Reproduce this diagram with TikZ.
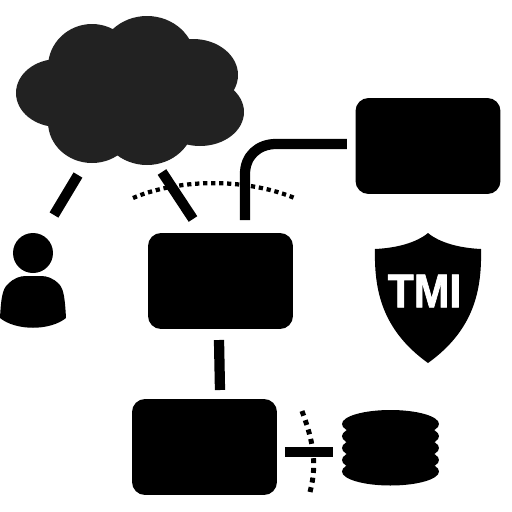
\documentclass[tikz,border=0pt]{standalone}
\usepackage{fontspec}
\setmainfont{Liberation Sans}[BoldFeatures={FakeBold=1.6}]
\usetikzlibrary{arrows.meta,positioning,calc}
\definecolor{cCloud}{RGB}{34,34,34}
\begin{document}
\begin{tikzpicture}[
			x=0.02cm,y=-0.02cm,
			hostbox/.style={
				rounded corners=0.26cm,
				minimum width=2.9cm,
				minimum height=1.92cm,
				inner sep=0pt,
				fill=black
			},
			wire/.style={line width=0.205cm,black},
			fence/.style={line width=0.085cm,black,dash pattern=on 0.085cm off 0.075cm},
			widefence/.style={line width=0.1cm,black,dash pattern=on 0.1cm off 0.095cm}
			]
			\useasboundingbox (0,0) rectangle (512,512);
			\fill[cCloud] (58,93) ellipse [x radius=42,y radius=34];
			\fill[cCloud] (92,67) ellipse [x radius=44,y radius=43];
			\fill[cCloud] (147,60) ellipse [x radius=48,y radius=44];
			\fill[cCloud] (193,75) ellipse [x radius=45,y radius=36];
			\fill[cCloud] (200,112) ellipse [x radius=44,y radius=34];
			\fill[cCloud] (147,122) ellipse [x radius=47,y radius=43];
			\fill[cCloud] (92,122) ellipse [x radius=44,y radius=41];
			\fill[cCloud] (60,60) rectangle (215,130);
			\coordinate (cloudLeft) at (78,175);
			\coordinate (cloudMid) at (162,172);
			\node[hostbox] (web) at (220.5,281) {};
			\node[hostbox] (store) at (204.5,447) {};
			\node[hostbox] (remote) at (428,146) {};
			\fill (33,253) circle [radius=20];
			\fill (0,318) .. controls (1,300) and (2,289) .. (8,284)
				.. controls (14,278) and (20,276) .. (26,276) -- (41,276)
				.. controls (47,276) and (53,278) .. (59,284)
				.. controls (64,289) and (65,300) .. (66,318)
				.. controls (50,331) and (16,331) .. (0,318) -- cycle;
			\coordinate (userTop) at (54,215);
			\draw[wire] (cloudLeft) -- (userTop);
			\coordinate (webTopLeft) at (193,219);
			\draw[wire] (cloudMid) -- (webTopLeft);
			\coordinate (webTopRight) at (245,220);
			\coordinate (remoteLeft) at (347,144);
			\draw[wire] (webTopRight) -- (245,174) .. controls (245,156) and (258,144) .. (276,144) -- (remoteLeft);
			\coordinate (webBottom) at (219,340);
			\coordinate (storeTop) at (220,390);
			\draw[wire] (webBottom) -- (storeTop);
			\coordinate (storeRight) at (285,452);
			\coordinate (diskLeft) at (333,452);
			\draw[wire] (storeRight) -- (diskLeft);
			\draw[fence] (133,198) .. controls (180,178) and (248,178) .. (297,199);
			\draw[widefence] (302,411) .. controls (312,438) and (318,462) .. (310,492);
			\foreach \diskY in {424,436.2,448,460,471.5} {
				\fill (390.5,\diskY) ellipse [x radius=48.5,y radius=14];
			}
			\fill (428,233) .. controls (440,243) and (460,248) .. (481,249)
				.. controls (482,290) and (474,330) .. (428,363)
				.. controls (382,330) and (374,290) .. (375,249)
				.. controls (396,248) and (416,243) .. (428,233) -- cycle;
			\node[white,font=\bfseries\fontsize{27}{27}\selectfont,xscale=0.9,inner sep=0pt] (shieldLabel) at (424.5,291) {TMI};
		\end{tikzpicture}
\end{document}
